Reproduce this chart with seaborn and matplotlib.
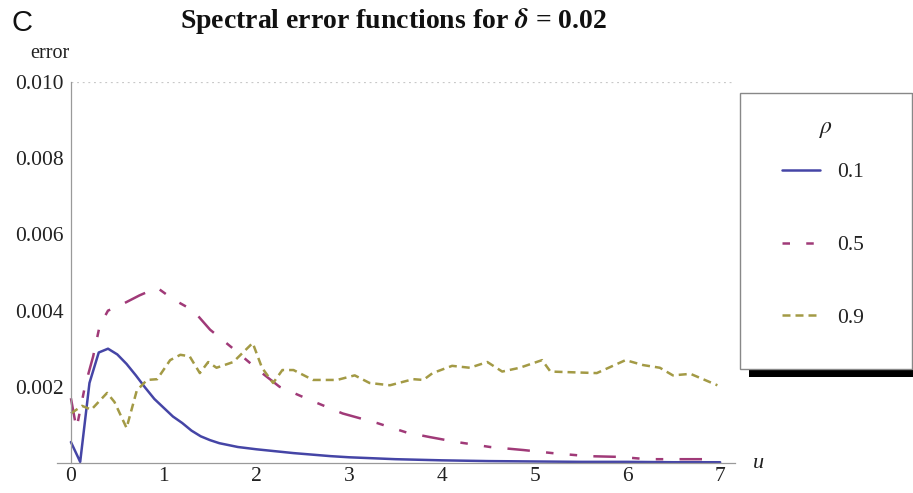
import numpy as np
import pandas as pd
import matplotlib
matplotlib.use("Agg")
import matplotlib.pyplot as plt
from matplotlib.lines import Line2D
from matplotlib.patches import Rectangle
from matplotlib.ticker import MultipleLocator
import seaborn as sns

# ---- data ----
rho_levels = ["0.1", "0.5", "0.9"]

u_01 = [0, 0.1, 0.2, 0.3, 0.4, 0.5, 0.6, 0.7, 0.8, 0.9, 1.0, 1.1, 1.2, 1.3, 1.4, 1.5,
        1.6, 1.8, 2.0, 2.2, 2.4, 2.6, 2.8, 3.0, 3.5, 4.0, 4.5, 5.0, 5.5, 6.0, 6.5, 7.0]
err_01 = [0.00055, 0.00003, 0.0021, 0.0029, 0.0030, 0.00285, 0.0026, 0.0023, 0.00198,
          0.00168, 0.00145, 0.00122, 0.00105, 0.00085, 0.0007, 0.0006, 0.00052, 0.00042,
          0.00036, 0.00031, 0.00026, 0.00022, 0.00018, 0.00015, 0.0001, 0.00007, 0.00005,
          0.00004, 0.00003, 0.00003, 0.00002, 0.00002]

u_05 = [0, 0.06, 0.15, 0.24, 0.31, 0.4, 0.5, 0.74, 0.93, 1.1, 1.32, 1.5, 1.75, 2.04,
        2.25, 2.58, 2.93, 3.3, 3.62, 3.87, 4.16, 4.52, 4.88, 5.19, 5.57, 5.92, 6.21,
        6.57, 6.93]
err_05 = [0.0017, 0.0009, 0.002, 0.0028, 0.0036, 0.004, 0.0041, 0.0044, 0.0046, 0.0043,
          0.004, 0.0035, 0.003, 0.0024, 0.002, 0.00165, 0.0013, 0.00105, 0.0008, 0.00068,
          0.00055, 0.00042, 0.00034, 0.00026, 0.00018, 0.00016, 0.0001, 0.0001, 0.0001]

u_09 = [0, 0.12, 0.22, 0.39, 0.47, 0.6, 0.71, 0.82, 0.93, 1.07, 1.18, 1.28, 1.39, 1.48,
        1.57, 1.75, 1.96, 2.06, 2.18, 2.28, 2.4, 2.61, 2.87, 3.06, 3.22, 3.44, 3.69, 3.8,
        3.9, 4.11, 4.3, 4.49, 4.65, 4.84, 5.08, 5.17, 5.67, 5.98, 6.17, 6.35, 6.49, 6.68,
        6.97]
err_09 = [0.0013, 0.0015, 0.0014, 0.00184, 0.0016, 0.00092, 0.0019, 0.00218, 0.0022,
          0.0027, 0.00284, 0.0028, 0.00236, 0.00265, 0.0025, 0.00265, 0.00315, 0.0025,
          0.0021, 0.00244, 0.00244, 0.00218, 0.00218, 0.0023, 0.0021, 0.00204, 0.0022,
          0.00218, 0.00236, 0.00255, 0.0025, 0.00265, 0.0024, 0.0025, 0.0027, 0.0024,
          0.00236, 0.0027, 0.00257, 0.0025, 0.0023, 0.00234, 0.00204]

x_ticks = [0, 1, 2, 3, 4, 5, 6, 7]
y_ticks = [0.002, 0.004, 0.006, 0.008, 0.010]
y_tick_labels = ["0.002", "0.004", "0.006", "0.008", "0.010"]

df = pd.concat([
    pd.DataFrame({"u": u_01, "error": err_01, "rho": "0.1"}),
    pd.DataFrame({"u": u_05, "error": err_05, "rho": "0.5"}),
    pd.DataFrame({"u": u_09, "error": err_09, "rho": "0.9"}),
], ignore_index=True)

# ---- style ----
sns.set_style("white")
plt.rcParams["font.family"] = ["Liberation Serif", "DejaVu Serif"]
plt.rcParams["mathtext.fontset"] = "stix"

colors = {"0.1": "#4545A6", "0.5": "#A03A78", "0.9": "#A39A45"}
LW = 1.8
dashes = {"0.1": "", "0.5": (9, 6.5, 3, 6.5, 3, 6.5), "0.9": (3.2, 2.0)}
axis_col = "#9a9a9a"
txt_col = "#222222"

W, H = 913, 493
fig = plt.figure(figsize=(W / 100, H / 100), dpi=100)
ax = fig.add_axes([57 / W, 1 - 463 / H, (735 - 57) / W, (463 - 82) / H])

sns.lineplot(data=df, x="u", y="error", hue="rho", style="rho", hue_order=rho_levels,
             style_order=rho_levels, palette=colors, dashes=dashes, linewidth=LW,
             legend=False, ax=ax, sort=True)

ax.set_xlim(-0.15, 7.16)
ax.set_ylim(0, 0.010)
ax.set_xlabel("")
ax.set_ylabel("")

for s in ["top", "right"]:
    ax.spines[s].set_visible(False)
ax.spines["left"].set_position(("data", 0))
for s in ["left", "bottom"]:
    ax.spines[s].set_color(axis_col)
    ax.spines[s].set_linewidth(0.9)

ax.axhline(0.010, xmin=0.15 / 7.31, color="#c8c8c8", linestyle=(0, (1.5, 3)), linewidth=0.9)

ax.set_xticks(x_ticks)
ax.set_xticklabels([str(t) for t in x_ticks])
ax.set_yticks(y_ticks)
ax.set_yticklabels(y_tick_labels)
ax.xaxis.set_minor_locator(MultipleLocator(0.2))
ax.yaxis.set_minor_locator(MultipleLocator(0.0005))
ax.tick_params(axis="both", which="major", direction="in", length=6, width=0.8,
               color=axis_col, labelsize=15.5, labelcolor=txt_col)
ax.tick_params(axis="both", which="minor", direction="in", length=3.5, width=0.7,
               color=axis_col)
ax.tick_params(axis="x", pad=3)
ax.tick_params(axis="y", pad=5)

# texts
fig.text(50 / W, 1 - 54 / H, "error", ha="center", va="center", fontsize=14.5, color=txt_col)
fig.text(758 / W, 1 - 463 / H, "u", ha="center", va="center", fontsize=16,
         style="italic", color=txt_col)
fig.text(394 / W, 1 - 21 / H, r"Spectral error functions for $\boldsymbol{\delta}$ = 0.02",
         ha="center", va="center", fontsize=20, fontweight="bold", color="#111111")
fig.text(22 / W, 1 - 23 / H, "C", ha="center", va="center", fontsize=21,
         family=["Liberation Sans", "DejaVu Sans"], color="#111111")

# legend box with shadow
fig.patches.append(Rectangle((749 / W, 1 - 377 / H), 170 / W, 284 / H,
                             transform=fig.transFigure, facecolor="black",
                             edgecolor="none", zorder=1))
fig.patches.append(Rectangle((740 / W, 1 - 369 / H), 172 / W, 276 / H,
                             transform=fig.transFigure, facecolor="white",
                             edgecolor="#888888", linewidth=1.0, zorder=2))
fig.text(826 / W, 1 - 130 / H, r"$\rho$", ha="center", va="center", fontsize=17,
         color=txt_col, zorder=3)

handles = [
    Line2D([], [], color=colors["0.1"], linewidth=LW),
    Line2D([], [], color=colors["0.5"], linewidth=LW, dashes=(3, 6.5, 3, 6.5, 9, 6.5)),
    Line2D([], [], color=colors["0.9"], linewidth=LW, dashes=(3.2, 2.0)),
]
leg = fig.legend(handles, rho_levels, loc="center", bbox_to_anchor=(823 / W, 1 - 245 / H),
                 bbox_transform=fig.transFigure, frameon=False, fontsize=15.5,
                 handlelength=1.8, handletextpad=0.8, labelspacing=2.45, borderpad=0)
leg.set_zorder(5)
for t in leg.get_texts():
    t.set_color(txt_col)

fig.savefig("out.png", dpi=100)
